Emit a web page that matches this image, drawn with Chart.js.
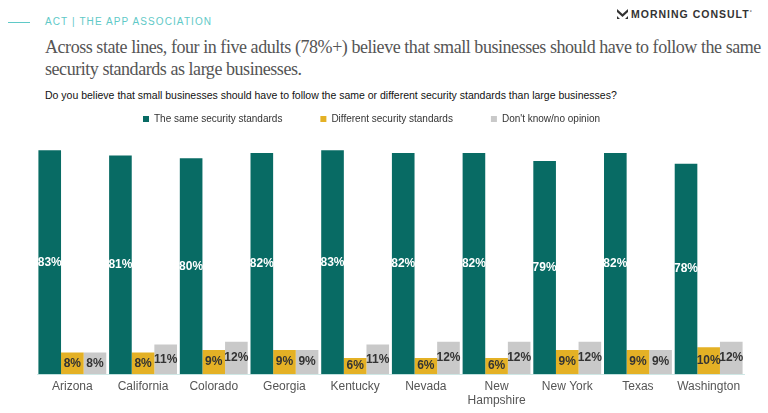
<!DOCTYPE html>
<html>
<head>
<meta charset="utf-8">
<script src="https://cdn.jsdelivr.net/npm/chart.js@4"></script>
<style>
  body { margin: 0; width: 768px; height: 413px; background: #fff; position: relative; overflow: hidden; font-family: "Liberation Sans", Arial, sans-serif; }
  .rule { position: absolute; left: 8px; top: 22px; width: 22px; height: 1px; background: #5fc9c7; }
  .org { position: absolute; left: 45px; top: 16px; font-size: 10px; letter-spacing: 1.1px; color: #5fc9c7; white-space: nowrap; }
  .logo { position: absolute; left: 617px; top: 8px; font-size: 10.5px; font-weight: bold; letter-spacing: 1px; color: #333; white-space: nowrap; }
  .logo svg { vertical-align: -1px; margin-right: 3px; }
  h1 { position: absolute; left: 45px; top: 36px; margin: 0; width: 725px; font-family: "Liberation Serif", "DejaVu Serif", serif; font-weight: normal; font-size: 18px; letter-spacing: -0.45px; line-height: 22px; color: #555; }
  .q { position: absolute; left: 45px; top: 89px; font-size: 10.5px; color: #111; white-space: nowrap; }
  #wrap { position: absolute; left: 0; top: 76px; width: 768px; height: 337px; }
</style>
</head>
<body>
<div class="rule"></div>
<div class="org">ACT | THE APP ASSOCIATION</div>
<div class="logo"><svg width="11" height="10" viewBox="0 0 11 10"><path d="M0 0 L5.5 5 L11 0 L11 3 L5.5 8 L0 3 Z M0 7 L3 10 L0 10 Z M11 7 L8 10 L11 10 Z" fill="#333"/></svg>MORNING CONSULT<sup style="font-size:5px">&#176;</sup></div>
<h1>Across state lines, four in five adults (78%+) believe that small businesses should have to follow the same security standards as large businesses.</h1>
<div class="q">Do you believe that small businesses should have to follow the same or different security standards than large businesses?</div>
<div id="wrap"><canvas id="myChart"></canvas></div>
<script>
const states = ['Arizona', 'California', 'Colorado', 'Georgia', 'Kentucky', 'Nevada', ['New', 'Hampshire'], 'New York', 'Texas', 'Washington'];
const sameStd = [83, 81, 80, 82, 83, 82, 82, 79, 82, 78];
const diffStd = [8, 8, 9, 9, 6, 6, 6, 9, 9, 10];
const dontKnow = [8, 11, 12, 9, 11, 12, 12, 12, 9, 12];

const chart = document.querySelector('#myChart');

// writes the % inside each bar
const barLabels = {
    id: 'barLabels',
    afterDatasetsDraw(c) {
        const ctx = c.ctx;
        ctx.save();
        ctx.font = 'bold 12px "Liberation Sans", Arial, sans-serif';
        ctx.textAlign = 'center';
        ctx.textBaseline = 'middle';
        c.data.datasets.forEach((ds, i) => {
            const meta = c.getDatasetMeta(i);
            ctx.fillStyle = i === 0 ? '#ffffff' : '#333333';
            meta.data.forEach((bar, j) => {
                ctx.fillText(ds.data[j] + '%', bar.x, (bar.y + bar.base) / 2);
            });
        });
        ctx.restore();
    }
};

// legend row sits a little left of the plot centre in the original
const legendNudge = {
    id: 'legendNudge',
    afterLayout(c) {
        if (c.legend && c.legend.lineWidths) c.legend.lineWidths[0] += 38;
    }
};

let myChart = new Chart(chart, {
    type: 'bar',
    data: {
        labels: states,
        datasets: [
            { label: 'The same security standards', data: sameStd, backgroundColor: '#086b64' },
            { label: 'Different security standards', data: diffStd, backgroundColor: '#e4b125' },
            { label: "Don't know/no opinion", data: dontKnow, backgroundColor: '#c9c9c9' }
        ]
    },
    options: {
        responsive: true,
        maintainAspectRatio: false,
        animation: false,
        layout: { padding: { left: 37, right: 24, top: 0, bottom: 0 } },
        datasets: { bar: { categoryPercentage: 0.96, barPercentage: 1.0 } },
        plugins: {
            legend: {
                position: 'top',
                labels: {
                    boxWidth: 6,
                    boxHeight: 6,
                    padding: 38,
                    color: '#333',
                    font: { size: 10, family: '"Liberation Sans", Arial, sans-serif' }
                }
            },
            tooltip: { enabled: false }
        },
        scales: {
            x: {
                grid: { display: false, drawTicks: false },
                border: { display: true, color: '#cfe9e7' },
                ticks: { color: '#555', padding: 5, font: { size: 12, family: '"Liberation Sans", Arial, sans-serif' } }
            },
            y: {
                display: false,
                min: 0,
                max: 89
            }
        }
    },
    plugins: [barLabels, legendNudge]
});
</script>
</body>
</html>
